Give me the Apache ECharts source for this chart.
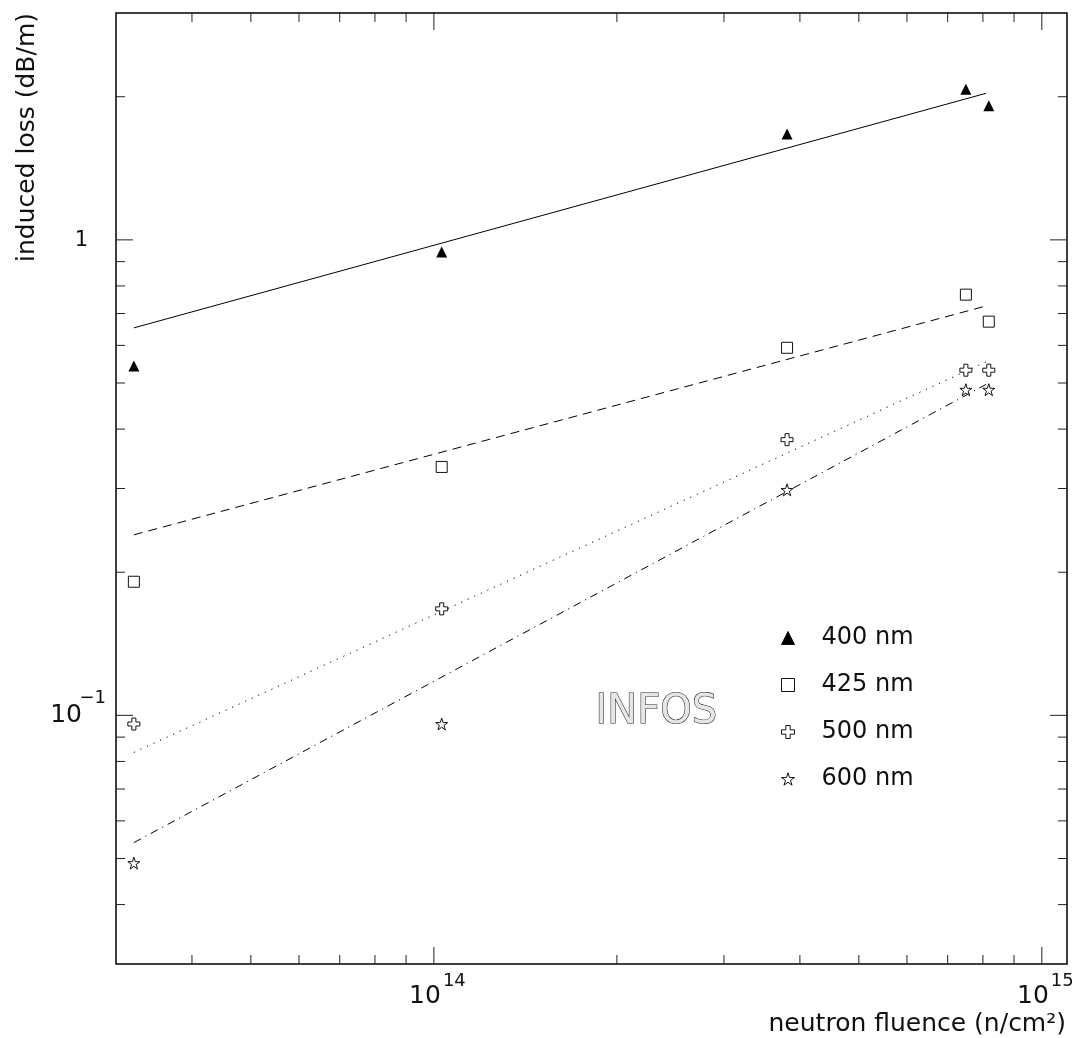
<!DOCTYPE html>
<html>
<head>
<meta charset="utf-8">
<title>INFOS induced loss vs neutron fluence</title>
<script src="https://cdn.jsdelivr.net/npm/echarts@6/dist/echarts.min.js"></script>
<style>
  html, body { margin: 0; padding: 0; background: #ffffff; }
  #chart { width: 1081px; height: 1038px; }
</style>
</head>
<body>
<div id="chart"></div>
<script>
// Measured fluence values (n/cm^2) shared by all wavelengths
const fluence = [3.21e13, 1.03e14, 3.81e14, 7.5e14, 8.18e14];

// Induced loss (dB/m) per wavelength
const loss400 = [0.543, 0.943, 1.67, 2.075, 1.915];
const loss425 = [0.191, 0.333, 0.593, 0.767, 0.673];
const loss500 = [0.0959, 0.1675, 0.380, 0.532, 0.532];
const loss600 = [0.0489, 0.0959, 0.298, 0.484, 0.484];

// Power-law fits, evaluated at the ends of the fluence range
const fitFluence = [3.21e13, 8.1e14];
const fit400 = [0.653, 2.034];
const fit425 = [0.2397, 0.7262];
const fit500 = [0.0836, 0.554];
const fit600 = [0.054, 0.4967];

const seriesNames = ['400 nm', '425 nm', '500 nm', '600 nm'];

// Axis ranges and tick positions
const X_MIN = 3e13, X_MAX = 1.1e15;
const Y_MIN = 0.03, Y_MAX = 3;
const xMajorTicks = [1e14, 1e15];
const xMinorTicks = [4e13, 5e13, 6e13, 7e13, 8e13, 9e13,
                     2e14, 3e14, 4e14, 5e14, 6e14, 7e14, 8e14, 9e14];
const yMajorTicks = [0.1, 1];
const yMinorTicks = [0.04, 0.05, 0.06, 0.07, 0.08, 0.09,
                     0.2, 0.3, 0.4, 0.5, 0.6, 0.7, 0.8, 0.9, 2];
const xTickBase = ['10', '10'];
const xTickExp = ['14', '15'];
const yTickBase = ['10', '1'];
const yTickExp = ['\u22121', ''];

const FONT = 'DejaVu Sans';
const INK = '#111';
const TICK = '#222';

const starPath = 'path://M0,-10L2.245,-3.09L9.511,-3.09L3.633,1.18L5.878,8.09L0,3.82L-5.878,8.09L-3.633,1.18L-9.511,-3.09L-2.245,-3.09Z';
const crossPath = 'path://M4,0H8V4H12V8H8V12H4V8H0V4H4Z';

function pairs(xs, ys) { return xs.map((x, i) => [x, ys[i]]); }

// Inward ticks on the bottom and top edges
function renderXTicks(params, api) {
  const v = api.value(0);
  const len = api.value(2) ? 17 : 9;
  const b = api.coord([v, Y_MIN]);
  const t = api.coord([v, Y_MAX]);
  const st = { stroke: TICK, lineWidth: 1 };
  return { type: 'group', children: [
    { type: 'line', shape: { x1: b[0], y1: b[1], x2: b[0], y2: b[1] - len }, style: st },
    { type: 'line', shape: { x1: t[0], y1: t[1], x2: t[0], y2: t[1] + len }, style: st }
  ]};
}

// Inward ticks on the left and right edges
function renderYTicks(params, api) {
  const v = api.value(1);
  const len = api.value(2) ? 17 : 9;
  const l = api.coord([X_MIN, v]);
  const r = api.coord([X_MAX, v]);
  const st = { stroke: TICK, lineWidth: 1 };
  return { type: 'group', children: [
    { type: 'line', shape: { x1: l[0], y1: l[1], x2: l[0] + len, y2: l[1] }, style: st },
    { type: 'line', shape: { x1: r[0], y1: r[1], x2: r[0] - len, y2: r[1] }, style: st }
  ]};
}

function renderXLabels(params, api) {
  const i = api.value(2);
  const p = api.coord([api.value(0), Y_MIN]);
  return { type: 'group', children: [
    { type: 'text', x: p[0] + 7, y: p[1] + 32.5,
      style: { text: xTickBase[i], fontFamily: FONT, fontSize: 25, fill: INK, align: 'right', verticalAlign: 'middle' } },
    { type: 'text', x: p[0] + 9, y: p[1] + 17.5,
      style: { text: xTickExp[i], fontFamily: FONT, fontSize: 18, fill: INK, align: 'left', verticalAlign: 'middle' } }
  ]};
}

function renderYLabels(params, api) {
  const i = api.value(2);
  const p = api.coord([X_MIN, api.value(1)]);
  if (!yTickExp[i]) {
    return { type: 'text', x: p[0] - 28, y: p[1] + 0.5,
      style: { text: yTickBase[i], fontFamily: FONT, fontSize: 21, fill: INK, align: 'right', verticalAlign: 'middle' } };
  }
  return { type: 'group', children: [
    { type: 'text', x: p[0] - 34, y: p[1] + 0.5,
      style: { text: yTickBase[i], fontFamily: FONT, fontSize: 25, fill: INK, align: 'right', verticalAlign: 'middle' } },
    { type: 'text', x: p[0] - 10, y: p[1] - 17,
      style: { text: yTickExp[i], fontFamily: FONT, fontSize: 18, fill: INK, align: 'right', verticalAlign: 'middle' } }
  ]};
}

function fitLine(name, ys, dash) {
  return {
    name: name + ' fit', type: 'line', data: pairs(fitFluence, ys),
    symbol: 'none', silent: true, z: 2,
    lineStyle: { color: '#000', width: 1, type: dash }
  };
}

function points(name, ys, symbol, size, fill) {
  return {
    name: name, type: 'scatter', data: pairs(fluence, ys),
    symbol: symbol, symbolSize: size, silent: true, z: 4,
    itemStyle: { color: fill, borderColor: '#111', borderWidth: fill === '#000' ? 0 : 1, opacity: 1 }
  };
}

const chart = echarts.init(document.getElementById('chart'), null, { renderer: 'canvas' });

chart.setOption({
  animation: false,
  backgroundColor: '#ffffff',
  grid: {
    left: 116, top: 13, right: 14, bottom: 74,
    show: true, borderColor: '#000', borderWidth: 1.5, backgroundColor: 'transparent'
  },
  xAxis: {
    type: 'log', logBase: 10, min: X_MIN, max: X_MAX,
    axisLine: { show: false }, axisTick: { show: false },
    axisLabel: { show: false }, splitLine: { show: false }
  },
  yAxis: {
    type: 'log', logBase: 10, min: Y_MIN, max: Y_MAX,
    axisLine: { show: false }, axisTick: { show: false },
    axisLabel: { show: false }, splitLine: { show: false }
  },
  legend: {
    data: seriesNames, orient: 'vertical', left: 776, top: 621,
    itemWidth: 13, itemHeight: 13, itemGap: 23, selectedMode: false,
    itemStyle: { borderWidth: 1 },
    textStyle: { fontFamily: FONT, fontSize: 24, color: INK, lineHeight: 24, padding: [0, 0, 0, 22] }
  },
  graphic: [
    { type: 'text', left: 595, top: 692,
      style: { text: 'INFOS', fontFamily: FONT, fontSize: 40, fill: '#e6e6e6', stroke: '#222', lineWidth: 1.1 } },
    { type: 'text', x: 1066, y: 1024,
      style: { text: 'neutron fluence (n/cm\u00b2)', fontFamily: FONT, fontSize: 25, fill: INK, align: 'right', verticalAlign: 'middle' } },
    { type: 'text', x: 27, y: 13, rotation: Math.PI / 2,
      style: { text: 'induced loss (dB/m)', fontFamily: FONT, fontSize: 25, fill: INK, align: 'right', verticalAlign: 'middle' } }
  ],
  series: [
    fitLine('400 nm', fit400, 'solid'),
    fitLine('425 nm', fit425, [9, 6]),
    fitLine('500 nm', fit500, [1.2, 6]),
    fitLine('600 nm', fit600, [8, 5, 1.2, 5]),
    points('400 nm', loss400, 'triangle', 11, '#000'),
    points('425 nm', loss425, 'rect', 11, '#ffffff'),
    points('500 nm', loss500, crossPath, 12, '#ffffff'),
    points('600 nm', loss600, starPath, 12, '#ffffff'),
    { type: 'custom', silent: true, z: 3, renderItem: renderXTicks, encode: { x: 0, y: 1 },
      data: xMajorTicks.map(v => [v, Y_MIN, 1]).concat(xMinorTicks.map(v => [v, Y_MIN, 0])) },
    { type: 'custom', silent: true, z: 3, renderItem: renderYTicks, encode: { x: 0, y: 1 },
      data: yMajorTicks.map(v => [X_MIN, v, 1]).concat(yMinorTicks.map(v => [X_MIN, v, 0])) },
    { type: 'custom', silent: true, z: 3, renderItem: renderXLabels, encode: { x: 0, y: 1 },
      data: xMajorTicks.map((v, i) => [v, Y_MIN, i]) },
    { type: 'custom', silent: true, z: 3, renderItem: renderYLabels, encode: { x: 0, y: 1 },
      data: yMajorTicks.map((v, i) => [X_MIN, v, i]) }
  ]
});
</script>
</body>
</html>
